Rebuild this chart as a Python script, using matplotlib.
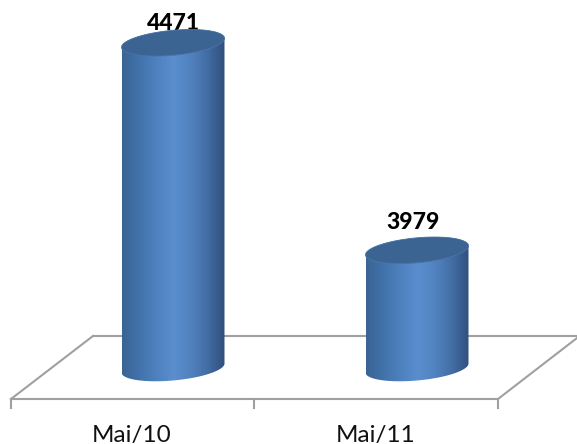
import numpy as np
import matplotlib
matplotlib.use('Agg')
import matplotlib.pyplot as plt
from matplotlib.colors import LinearSegmentedColormap
from matplotlib.patches import Polygon

# Dados
categorias = ['Mai/10', 'Mai/11']
valores = [4471, 3979]

W, H = 577, 444
base = 3700
px_por_x = 244.0   # pixels entre as duas colunas
px_por_y = 0.4218  # pixels por unidade

plt.rcParams['font.family'] = ['Lato', 'DejaVu Sans']

fig = plt.figure(figsize=(W / 100, H / 100), dpi=100)
ax = fig.add_axes([0, 0, 1, 1])
ax.axis('off')


def dx(px):
    return (px - 173) / px_por_x


def dy(py):
    return base + (368 - py) / px_por_y


xlim = (dx(0), dx(W))
ylim = (dy(H), dy(0))

# Chao do grafico
cor_linha = '#a0a0a0'
ax.plot([dx(93), dx(577)], [dy(336), dy(336)], color=cor_linha, lw=1.5, zorder=1)
ax.plot([dx(11), dx(93)], [dy(399), dy(336)], color=cor_linha, lw=1.5, zorder=1)
ax.plot([dx(11), dx(498)], [dy(399), dy(399)], color=cor_linha, lw=1.5, zorder=1)
ax.plot([dx(498), dx(577)], [dy(399), dy(338)], color=cor_linha, lw=1.5, zorder=1)
for t in (11, 254, 498):
    ax.plot([dx(t), dx(t)], [dy(399), dy(408)], color=cor_linha, lw=1.5, zorder=1)

gradiente = LinearSegmentedColormap.from_list('coluna', [
    (0.0, '#3a6493'), (0.12, '#3f6ea5'), (0.30, '#4b7eba'), (0.50, '#5a8ecf'),
    (0.66, '#5283c0'), (0.82, '#446fa6'), (0.94, '#36598a'), (1.0, '#30507a')])

t = np.linspace(0, 2 * np.pi, 200)
meia_larg = 51.5 / px_por_x


def elipse(xc, yc, ang):
    # elipse inclinada, em coordenadas de dados
    ex = xc + meia_larg * np.cos(ang)
    ey = yc + (4.5 * np.cos(ang) + 12.5 * np.sin(ang)) / px_por_y
    return np.column_stack([ex, ey])


for i, (cat, val) in enumerate(zip(categorias, valores)):
    # corpo: metade de baixo da base + metade de baixo do topo
    ang_base = np.linspace(np.pi, 2 * np.pi, 80)
    ang_topo = np.linspace(0, np.pi, 80)
    contorno = np.vstack([elipse(i, base, ang_base), elipse(i, val, ang_topo)])
    corpo = Polygon(contorno, closed=True, fc='none', ec='none', transform=ax.transData)
    ax.add_patch(corpo)
    img = ax.imshow(np.linspace(0, 1, 256)[None, :], cmap=gradiente, aspect='auto',
                    extent=(i - meia_larg, i + meia_larg, base - 20 / px_por_y, val + 20 / px_por_y),
                    zorder=4)
    img.set_clip_path(corpo)
    # tampa
    ax.add_patch(Polygon(elipse(i, val, t), closed=True, fc='#3b6493', ec='#4a75a6', lw=0.6, zorder=5))
    # rotulo do valor, atras da tampa
    ax.annotate(str(val), (i, val), xytext=(0 if i == 0 else -3, 14 if i == 0 else 20),
                textcoords='offset points', ha='center', va='center',
                fontsize=16.5, fontweight='black', color='black', zorder=3)
    # rotulo da categoria
    ax.text(dx(132 + 244 * i), dy(435), cat, ha='center', va='center',
            fontsize=17.5, color='#111111', zorder=3)

ax.set_xlim(*xlim)
ax.set_ylim(*ylim)

fig.savefig('out.png', dpi=100)
